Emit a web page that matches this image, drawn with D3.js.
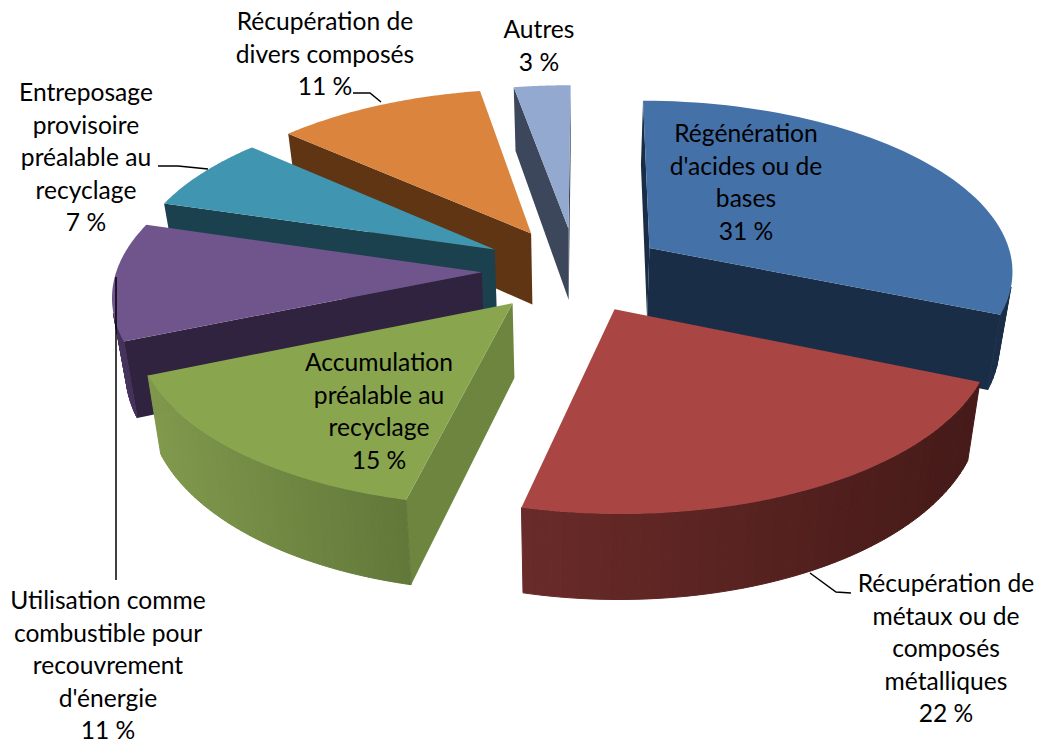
<!DOCTYPE html>
<html>
<head>
<meta charset="utf-8">
<script src="https://cdn.jsdelivr.net/npm/d3@7"></script>
<style>
  html, body { margin: 0; background: #fff; }
  text { font-family: Lato, sans-serif; font-size: 24.6px; fill: #000; }
</style>
</head>
<body>
<svg id="chart" width="1039" height="743"></svg>
<script>
// data
const categories = ["Régénération d'acides ou de bases", "Récupération de métaux ou de composés métalliques",
    "Accumulation préalable au recyclage", "Utilisation comme combustible pour recouvrement d'énergie",
    "Entreposage provisoire préalable au recyclage", "Récupération de divers composés", "Autres"];
const values = [31, 22, 15, 11, 7, 11, 3];

// label text, one row per line
const labelLines = [
    ["Régénération", "d'acides ou de", "bases", "31 %"],
    ["Récupération de", "métaux ou de", "composés", "métalliques", "22 %"],
    ["Accumulation", "préalable au", "recyclage", "15 %"],
    ["Utilisation comme", "combustible pour", "recouvrement", "d'énergie", "11 %"],
    ["Entreposage", "provisoire", "préalable au", "recyclage", "7 %"],
    ["Récupération de", "divers composés", "11 %"],
    ["Autres", "3 %"]
];

// styles
const topColors = ["#4471a8", "#a94543", "#89a54e", "#70558d", "#4096b0", "#da843e", "#93a9d0"];
const wallLeft = ["#1c3048", "#6a2b29", "#80994c", "#4a3560", "#1c4450", "#603514", "#3f4a60"];
const wallRight = ["#1a2d47", "#451a18", "#62783a", "#3a2a4e", "#1c4450", "#603514", "#3f4a60"];
const cutColors = ["#1a2d47", "#451a18", "#6d853f", "#30233f", "#1a414d", "#603514", "#3d475c"];
const labelAnchors = [[746, 142], [946, 592], [379, 371], [108, 609], [86, 101], [325, 30], [539, 38]];
const leaders = [[[353, 93], [370, 93], [381, 102]], [[158, 166], [178, 166], [208, 169]],
    [[116, 277], [116, 580]], [[810, 573], [836, 592], [851, 593]]];

const svg = d3.select("#chart");

// simple perspective set-up, pie radius is 1 in world units
const cx = 573, cy = 270, A = 365, B = 170, persp = 0.12, H = 73, explode = 0.25, sink = 0.03;
const rad = Math.PI / 180;

// the 3d view bends the angles a little, more at the front and left than at the top
const viewTurn = d3.scaleLinear()
    .domain([0, 112, 190, 310, 349, 360].map(d => d * rad))
    .range([0.3, 1.1, 2.6, 2.2, 0.8, 0.3].map(d => d * rad));

function project(x, y, z) {
    const s = 1 / (1 - persp * y);
    return [cx + A * x * s * (1 - sink * z), cy + (B * y + H * z) * s];
}

const pie = d3.pie().sort(null).value(d => d);
const arcs = pie(values);
const line = d3.line();

// back slices first, then the near ones
const drawOrder = [6, 5, 4, 3, 0, 2, 1];

drawOrder.forEach(function (i) {
    const a = arcs[i];
    const g = svg.append("g");
    const mid = (a.startAngle + a.endAngle) / 2 + 2.5 * rad;
    const ox = Math.sin(mid) * explode;
    const oy = -Math.cos(mid) * explode;
    const rim = d3.range(0, 61).map(k => a.startAngle + (a.endAngle - a.startAngle) * k / 60);
    const p = function (ang, r, z) {
        const t = ang + viewTurn(ang);
        return project(ox + r * Math.sin(t), oy - r * Math.cos(t), z);
    };

    // the two cut faces, only when they look at the viewer
    [a.startAngle, a.endAngle].forEach(function (ang) {
        const face = [p(0, 0, 0), p(ang, 1, 0), p(ang, 1, 1), p(0, 0, 1)];
        const flip = ang === a.startAngle ? 1 : -1;
        if (d3.polygonArea(face) * flip > 0) {
            g.append("path").attr("d", line(face) + "Z").attr("fill", cutColors[i]);
        }
    });

    // outer wall in small strips so it can be shaded
    const shade = d3.scaleLinear().domain(d3.extent(rim, r => p(r, 1, 0)[0]))
        .range([wallLeft[i], wallRight[i]]);
    d3.pairs(rim).forEach(function ([r0, r1]) {
        const strip = [p(r0, 1, 0), p(r1, 1, 0), p(r1, 1, 1), p(r0, 1, 1)];
        if (d3.polygonArea(strip) > 0) {
            const col = shade(p(r0, 1, 0)[0]);
            g.append("path").attr("d", line(strip) + "Z")
                .attr("fill", col).attr("stroke", col).attr("stroke-width", 1);
        }
    });

    // top face
    const top = [p(0, 0, 0)].concat(rim.map(r => p(r, 1, 0)));
    g.append("path").attr("d", line(top) + "Z").attr("fill", topColors[i]);
});

// leader lines
leaders.forEach(function (l) {
    svg.append("path").attr("d", line(l)).attr("fill", "none")
        .attr("stroke", "#000").attr("stroke-width", 1.5);
});

// labels
labelLines.forEach(function (rows, i) {
    const t = svg.append("text").attr("text-anchor", "middle");
    rows.forEach(function (row, j) {
        t.append("tspan").attr("x", labelAnchors[i][0])
            .attr("y", labelAnchors[i][1] + j * 32.5).text(row);
    });
});
</script>
</body>
</html>
